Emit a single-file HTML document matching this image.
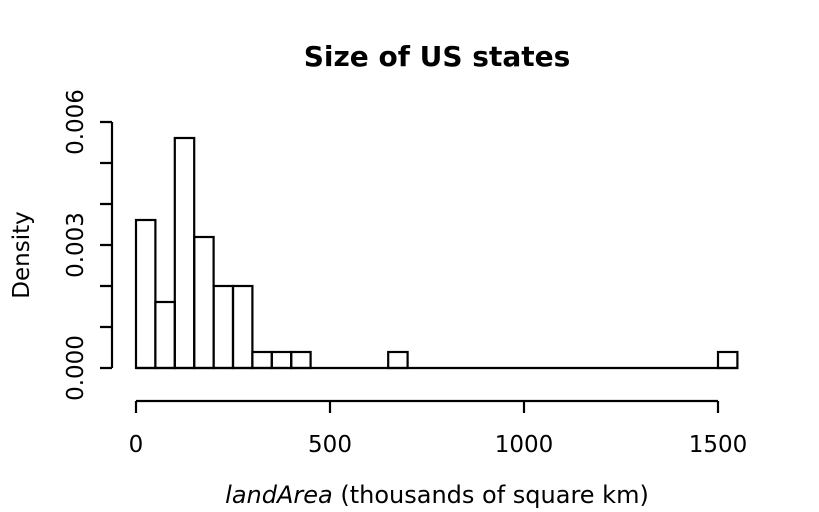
<!DOCTYPE html>
<html><head><style>body{margin:0;background:#fff}svg{display:block}</style></head><body>
<svg width="819" height="512" xmlns="http://www.w3.org/2000/svg" font-family="DejaVu Sans, sans-serif">
<rect width="819" height="512" fill="#fff"/>
<text x="437" y="66" font-size="28" font-weight="bold" text-anchor="middle">Size of US states</text>
<g fill="none" stroke="#000" stroke-width="2.2">
<path d="M136,368H738"/>
<rect x="136" y="220" width="19.4" height="148"/>
<rect x="155.4" y="302" width="19.4" height="66"/>
<rect x="174.8" y="138" width="19.4" height="230"/>
<rect x="194.2" y="237" width="19.4" height="131"/>
<rect x="213.6" y="286" width="19.4" height="82"/>
<rect x="233" y="286" width="19.4" height="82"/>
<rect x="252.4" y="352" width="19.4" height="16"/>
<rect x="271.8" y="352" width="19.4" height="16"/>
<rect x="291.2" y="352" width="19.4" height="16"/>
<rect x="388.2" y="352" width="19.4" height="16"/>
<rect x="718" y="352" width="19.4" height="16"/>
<path d="M112,122V368M100,368H112M100,327H112M100,286H112M100,245H112M100,204H112M100,163H112M100,122H112"/>
<path d="M136,401H718M136,401V413M330,401V413M524,401V413M718,401V413"/>
</g>
<g font-size="23" text-anchor="middle">
<text x="136" y="452">0</text>
<text x="330" y="452">500</text>
<text x="524" y="452">1000</text>
<text x="718" y="452">1500</text>
<text transform="translate(83,368) rotate(-90)">0.000</text>
<text transform="translate(83,245) rotate(-90)">0.003</text>
<text transform="translate(83,122) rotate(-90)">0.006</text>
<text transform="translate(29,255) rotate(-90)">Density</text>
<text x="437" y="503" font-size="24"><tspan font-style="italic">landArea</tspan> (thousands of square km)</text>
</g>
</svg>
</body></html>
